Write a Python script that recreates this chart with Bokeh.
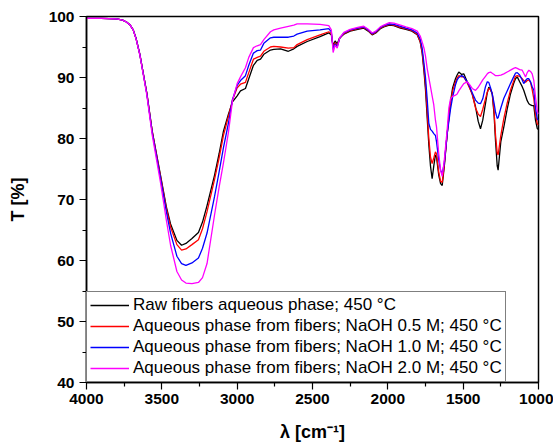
from bokeh.plotting import figure
from bokeh.models import Range1d, Legend, LegendItem, FixedTicker
from bokeh.embed import file_html
from bokeh.resources import INLINE

wavenumber = [4000, 3900, 3800, 3760, 3735, 3710, 3690, 3670, 3646, 3600, 3564, 3509, 3470, 3442, 3400,
              3369, 3340, 3300, 3257, 3230, 3200, 3150, 3120, 3091, 3058, 3031, 3000, 2978, 2945, 2923,
              2892, 2867, 2845, 2823, 2779, 2757, 2712, 2660, 2624, 2602, 2535, 2450, 2392, 2375, 2363,
              2350, 2336, 2320, 2292, 2250, 2200, 2160, 2130, 2104, 2080, 2050, 2027, 1990, 1960, 1916,
              1880, 1840, 1805, 1785, 1772, 1760, 1750, 1739, 1728, 1717, 1706, 1695, 1684, 1677, 1662,
              1650, 1639, 1625, 1606, 1595, 1584, 1570, 1551, 1540, 1529, 1510, 1496, 1473, 1456, 1440,
              1418, 1400, 1385, 1370, 1352, 1340, 1330, 1318, 1307, 1295, 1285, 1274, 1268, 1250, 1230,
              1208, 1186, 1165, 1153, 1141, 1125, 1108, 1098, 1086, 1075, 1064, 1053, 1042, 1031, 1020,
              1008, 1000]

t_raw = [99.7, 99.7, 99.6, 99.4, 99.1, 98.6, 97.8, 96.3, 93.8, 87.5, 81.2, 74.0, 68.8, 66.0, 63.3,
         62.5, 62.8, 63.6, 64.6, 66.3, 69.0, 74.0, 77.5, 81.2, 84.0, 86.0, 87.0, 87.8, 88.2, 89.8,
         92.0, 92.8, 93.0, 93.8, 94.5, 94.6, 94.7, 94.3, 94.7, 95.1, 95.9, 96.7, 97.3, 97.0, 95.2,
         96.0, 95.5, 96.5, 97.1, 97.6, 97.9, 98.1, 97.6, 97.0, 97.3, 98.0, 98.3, 98.6, 98.5, 98.1,
         97.9, 97.6, 97.0, 95.8, 94.0, 91.0, 88.0, 83.5, 79.0, 75.5, 73.4, 75.5, 77.3, 77.0, 74.0,
         72.6, 72.3, 75.5, 80.8, 83.5, 86.0, 88.3, 89.8, 90.4, 90.9, 90.5, 90.6, 89.3, 88.3, 87.3,
         85.2, 82.8, 81.6, 83.0, 85.7, 87.5, 88.4, 88.0, 87.3, 84.0, 79.5, 75.5, 74.8, 79.5, 81.9,
         84.8, 87.3, 89.0, 89.8, 90.1, 89.3, 88.5, 87.9, 87.0, 86.2, 85.7, 85.5, 85.4, 85.4, 83.0,
         81.6, 81.5]

t_naoh_05 = [99.7, 99.7, 99.6, 99.4, 99.1, 98.6, 97.8, 96.3, 93.8, 87.5, 81.2, 73.8, 68.5, 65.5, 62.6,
             61.7, 61.9, 62.6, 63.4, 65.2, 68.0, 73.3, 76.8, 80.5, 83.6, 86.3, 88.3, 88.9, 89.2, 90.8,
             93.0, 93.3, 93.5, 94.3, 95.0, 95.1, 95.0, 94.8, 94.9, 95.4, 96.2, 97.0, 97.5, 97.2, 95.0,
             95.7, 95.2, 96.4, 97.2, 97.7, 98.0, 98.2, 97.7, 97.1, 97.4, 98.1, 98.4, 98.7, 98.6, 98.2,
             98.0, 97.7, 97.1, 95.9, 94.2, 91.5, 88.8, 84.5, 80.0, 77.0, 75.9, 76.8, 77.8, 77.5, 74.5,
             73.0, 72.8, 75.8, 80.8, 83.3, 85.6, 87.8, 89.3, 89.9, 90.3, 90.1, 90.1, 89.1, 88.2, 87.3,
             85.0, 84.0, 83.6, 84.8, 86.5, 87.6, 88.2, 88.0, 87.4, 84.5, 80.5, 77.6, 77.3, 80.5, 83.3,
             85.8, 87.9, 89.4, 90.2, 90.3, 90.2, 89.8, 89.5, 89.2, 89.5, 89.6, 89.2, 88.0, 86.5, 84.0,
             82.4, 82.2]

t_naoh_10 = [99.7, 99.7, 99.6, 99.4, 99.1, 98.6, 97.8, 96.3, 93.8, 87.4, 81.0, 73.5, 68.0, 64.5, 60.7,
             59.5, 59.2, 59.6, 60.4, 62.0, 64.5, 70.5, 74.5, 78.5, 82.5, 86.4, 88.7, 89.5, 90.3, 92.0,
             94.0, 94.4, 94.5, 95.6, 96.5, 96.6, 96.6, 96.6, 96.8, 97.1, 97.6, 97.8, 98.0, 97.5, 94.6,
             95.5, 95.0, 96.4, 97.3, 97.8, 98.1, 98.3, 97.8, 97.2, 97.5, 98.2, 98.5, 98.8, 98.7, 98.4,
             98.1, 97.8, 97.3, 96.3, 94.8, 92.3, 90.0, 86.5, 82.5, 81.5, 81.2, 80.8, 80.5, 79.5, 76.5,
             74.8, 74.2, 76.0, 80.8, 82.8, 84.8, 86.8, 88.8, 89.6, 90.0, 90.3, 90.1, 89.3, 88.5, 87.5,
             86.3, 85.8, 85.7, 86.5, 88.5, 89.3, 89.2, 88.3, 87.3, 85.8, 84.3, 83.3, 83.4, 85.0, 86.6,
             87.8, 89.0, 90.1, 90.7, 90.8, 90.4, 89.6, 89.0, 89.5, 89.8, 89.8, 89.3, 88.5, 87.9, 85.0,
             83.2, 83.0]

t_naoh_20 = [99.7, 99.7, 99.6, 99.4, 99.1, 98.6, 97.8, 96.2, 93.7, 87.2, 80.6, 72.8, 66.6, 62.5, 58.2,
             56.8, 56.3, 56.2, 56.4, 57.2, 59.5, 67.5, 72.0, 76.0, 81.0, 86.2, 89.0, 90.1, 91.6, 93.3,
             94.9, 95.2, 95.4, 96.2, 97.5, 97.8, 98.1, 98.4, 98.6, 98.8, 98.8, 98.7, 98.5, 97.8, 94.1,
             95.3, 94.8, 96.5, 97.4, 97.9, 98.2, 98.4, 97.9, 97.3, 97.6, 98.3, 98.6, 99.0, 98.9, 98.6,
             98.3, 98.0, 97.6, 96.8, 95.8, 94.8, 93.5, 91.5, 90.0, 88.5, 87.0, 85.5, 83.0, 81.9, 77.5,
             74.8, 73.8, 76.5, 81.5, 85.0, 86.5, 86.9, 87.1, 87.3, 87.8, 88.5, 89.0, 89.3, 88.8, 88.2,
             87.9, 88.4, 89.0, 89.6, 90.2, 90.6, 90.8, 90.9, 90.7, 90.5, 90.3, 90.3, 90.3, 90.4, 90.6,
             90.9, 91.2, 91.5, 91.6, 91.5, 91.3, 91.2, 90.7, 90.1, 90.8, 91.2, 91.0, 90.6, 89.5, 86.8,
             84.5, 84.0]

series_labels = ["Raw fibers aqueous phase; 450 °C",
                 "Aqueous phase from fibers; NaOH 0.5 M; 450 °C",
                 "Aqueous phase from fibers; NaOH 1.0 M; 450 °C",
                 "Aqueous phase from fibers; NaOH 2.0 M; 450 °C"]
series_colors = ["#000000", "#ff0000", "#0000ff", "#ff00ff"]
x_ticks = [4000, 3500, 3000, 2500, 2000, 1500, 1000]
y_ticks = [40, 50, 60, 70, 80, 90, 100]

p = figure(width=553, height=446, output_backend="svg", toolbar_location=None,
           x_range=Range1d(4000, 1000), y_range=Range1d(40, 100),
           min_border_left=86, min_border_right=15, min_border_top=16, min_border_bottom=64)

p.xgrid.visible = False
p.ygrid.visible = False
p.outline_line_color = "black"
p.outline_line_width = 1.5
p.background_fill_color = "white"
p.border_fill_color = "white"

items = []
for ys, lab, col in zip([t_raw, t_naoh_05, t_naoh_10, t_naoh_20], series_labels, series_colors):
    r = p.line(wavenumber, ys, line_color=col, line_width=1.3)
    items.append(LegendItem(label=lab, renderers=[r]))

for ax, ticks in ((p.xaxis[0], x_ticks), (p.yaxis[0], y_ticks)):
    ax.ticker = FixedTicker(ticks=ticks,
                            minor_ticks=[t + (ticks[1] - ticks[0]) / 2 for t in ticks[:-1]])
    ax.axis_line_color = "black"
    ax.axis_line_width = 1.5
    ax.major_tick_line_color = "black"
    ax.minor_tick_line_color = "black"
    ax.major_tick_line_width = 1.2
    ax.minor_tick_line_width = 1.2
    ax.major_tick_out = 7
    ax.major_tick_in = 0
    ax.minor_tick_out = 4
    ax.minor_tick_in = 0
    ax.major_label_text_font = "Liberation Sans"
    ax.major_label_text_font_style = "bold"
    ax.major_label_text_font_size = "15.5px"
    ax.major_label_text_color = "black"
    ax.axis_label_text_font = "Liberation Sans"
    ax.axis_label_text_font_style = "bold"
    ax.axis_label_text_font_size = "18px"
    ax.axis_label_text_color = "black"

p.xaxis[0].axis_label = "λ [cm⁻¹]"
p.yaxis[0].axis_label = "T [%]"
p.xaxis[0].major_label_standoff = 4
p.yaxis[0].major_label_standoff = 5
p.xaxis[0].axis_label_standoff = 15
p.yaxis[0].axis_label_standoff = 18

legend = Legend(items=items, location="bottom_left", margin=0, padding=3, spacing=1,
                glyph_width=39, glyph_height=20, label_height=20, label_standoff=4,
                label_text_font="Liberation Sans", label_text_font_size="17px",
                label_text_color="black", border_line_color="black", border_line_width=1,
                background_fill_color="white", background_fill_alpha=1.0)
p.add_layout(legend)

open("out.html", "w").write(file_html(p, INLINE))
